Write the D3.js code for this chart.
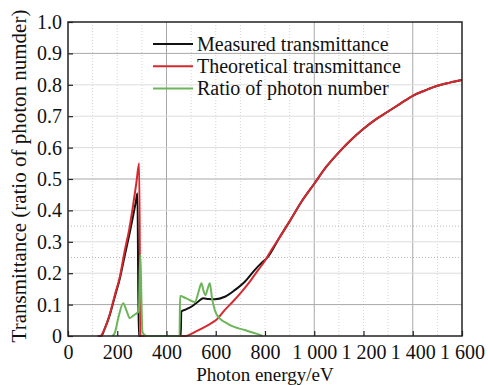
<!DOCTYPE html>
<html>
<head>
<meta charset="utf-8">
<script src="https://cdn.jsdelivr.net/npm/d3@7"></script>
<style>
	body { margin: 0; background: #fff; }
	svg text { font-family: "Liberation Serif", "Times New Roman", serif; fill: #111; }
</style>
</head>
<body>
<div id="chart"></div>
<script>
// Photon energy (eV) and transmittance values
const theoryEnergy = [120, 130, 150, 170, 190, 211, 230, 251, 265, 278, 289, 294, 460, 474, 520, 569, 600, 637, 670, 704, 740, 772, 800, 826, 860, 900, 950, 1000, 1050, 1100, 1150, 1200, 1250, 1300, 1350, 1400, 1450, 1500, 1550, 1600];
const theoryValue = [0, 0, 0.025, 0.07, 0.13, 0.19, 0.27, 0.35, 0.42, 0.49, 0.55, 0, 0, 0, 0.015, 0.035, 0.05, 0.083, 0.11, 0.14, 0.175, 0.21, 0.24, 0.274, 0.315, 0.365, 0.43, 0.485, 0.54, 0.585, 0.625, 0.66, 0.69, 0.715, 0.74, 0.765, 0.782, 0.797, 0.807, 0.815];

const measuredEnergy = [125, 135, 150, 170, 190, 211, 230, 251, 265, 275, 282, 287, 458, 460, 480, 502, 529, 549, 570, 596, 637, 677, 718, 758, 785, 810, 830, 860, 900, 950, 1000, 1050, 1100, 1150, 1200, 1250, 1300, 1350, 1400, 1450, 1500, 1550, 1600];
const measuredValue = [0, 0, 0.025, 0.068, 0.125, 0.185, 0.255, 0.33, 0.385, 0.425, 0.455, 0, 0, 0.078, 0.085, 0.094, 0.11, 0.12, 0.118, 0.117, 0.125, 0.146, 0.173, 0.21, 0.232, 0.25, 0.274, 0.315, 0.365, 0.43, 0.485, 0.54, 0.585, 0.625, 0.66, 0.69, 0.715, 0.74, 0.765, 0.782, 0.797, 0.807, 0.815];

const ratioEnergy = [180, 190, 205, 224, 238, 251, 265, 280, 288, 291, 294, 298, 302, 310, 320, 453, 455, 480, 515, 530, 542, 550, 558, 567, 576, 585, 596, 616, 640, 664, 690, 718, 745, 771, 790];
const ratioValue = [0, 0.01, 0.06, 0.104, 0.08, 0.057, 0.065, 0.073, 0.08, 0.2, 0.258, 0.12, 0.014, 0.004, 0, 0, 0.127, 0.12, 0.108, 0.14, 0.168, 0.145, 0.13, 0.15, 0.168, 0.12, 0.083, 0.056, 0.043, 0.032, 0.025, 0.019, 0.012, 0.006, 0];

const xTicks = [0, 200, 400, 600, 800, 1000, 1200, 1400, 1600];
const xTickLabels = ["0", "200", "400", "600", "800", "1 000", "1 200", "1 400", "1 600"];
const yTicks = [0, 0.1, 0.2, 0.3, 0.4, 0.5, 0.6, 0.7, 0.8, 0.9, 1.0];
const yTickLabels = ["0", "0.1", "0.2", "0.3", "0.4", "0.5", "0.6", "0.7", "0.8", "0.9", "1.0"];

// grid lines as they show in the scan
const xGridMinor = [100, 200, 300, 500, 600, 700, 800, 900, 1100, 1200, 1300, 1500];
const xGridMajor = [400, 1000, 1400];
const yGridMinor = [0.2, 0.3, 0.4, 0.6, 0.7, 0.8];
const yGridMajor = [0.1, 0.5, 0.9];
const yGridDotted = [0.25, 0.35];

const seriesNames = ["Measured transmittance", "Theoretical transmittance", "Ratio of photon number"];
const seriesColours = ["#111111", "#d42a2f", "#6db55a"];

const serif = '"Liberation Serif", "Times New Roman", serif';

drawChart();

function drawChart() {
	const width = 488;
	const height = 385;
	const left = 68, right = 462, top = 22, bottom = 336;

	const xScale = d3.scaleLinear().domain([0, 1600]).range([left, right]);
	const yScale = d3.scaleLinear().domain([0, 1]).range([bottom, top]);

	const svg = d3.select('#chart')
		.append('svg')
		.attr('width', width)
		.attr('height', height)
		.attr('font-family', serif);

	// Grid
	const grid = svg.append('g');
	grid.selectAll('.gx').data(xGridMinor).enter().append('line')
		.attr('x1', d => xScale(d)).attr('x2', d => xScale(d))
		.attr('y1', top).attr('y2', bottom)
		.attr('stroke', '#d4d4d4').attr('stroke-dasharray', '1,2');
	grid.selectAll('.gxm').data(xGridMajor).enter().append('line')
		.attr('x1', d => xScale(d)).attr('x2', d => xScale(d))
		.attr('y1', top).attr('y2', bottom)
		.attr('stroke', '#a8a8a8');
	grid.selectAll('.gy').data(yGridMinor).enter().append('line')
		.attr('y1', d => yScale(d)).attr('y2', d => yScale(d))
		.attr('x1', left).attr('x2', right)
		.attr('stroke', '#dddddd');
	grid.selectAll('.gyd').data(yGridDotted).enter().append('line')
		.attr('y1', d => yScale(d)).attr('y2', d => yScale(d))
		.attr('x1', left).attr('x2', right)
		.attr('stroke', '#b8b8b8').attr('stroke-dasharray', '1,2');
	grid.selectAll('.gym').data(yGridMajor).enter().append('line')
		.attr('y1', d => yScale(d)).attr('y2', d => yScale(d))
		.attr('x1', left).attr('x2', right)
		.attr('stroke', '#a8a8a8');

	// Curves
	const line = d3.line()
		.x(d => xScale(d[0]))
		.y(d => yScale(d[1]))
		.curve(d3.curveMonotoneX);

	const series = [
		d3.zip(measuredEnergy, measuredValue),
		d3.zip(theoryEnergy, theoryValue),
		d3.zip(ratioEnergy, ratioValue)
	];

	svg.append('g').selectAll('path')
		.data(series)
		.enter()
			.append('path')
				.attr('d', d => line(d))
				.attr('fill', 'none')
				.attr('stroke', (d, i) => seriesColours[i])
				.attr('stroke-width', 2)
				.attr('stroke-linejoin', 'round');

	// Axes
	const xAxis = svg.append('g')
		.attr('transform', `translate(0, ${bottom})`)
		.call(d3.axisBottom(xScale)
			.tickValues(xTicks)
			.tickFormat((d, i) => xTickLabels[i])
			.tickSizeInner(-5)
			.tickSizeOuter(0)
			.tickPadding(9));

	const yAxis = svg.append('g')
		.attr('transform', `translate(${left}, 0)`)
		.call(d3.axisLeft(yScale)
			.tickValues(yTicks)
			.tickFormat((d, i) => yTickLabels[i])
			.tickSizeInner(-5)
			.tickSizeOuter(0)
			.tickPadding(6));

	[xAxis, yAxis].forEach(a => {
		a.attr('font-family', serif).attr('font-size', 20);
		a.select('.domain').remove();
		a.selectAll('line').attr('stroke', '#222').attr('stroke-width', 1.2);
		a.selectAll('text').attr('fill', '#111');
	});

	// Frame
	svg.append('rect')
		.attr('x', left).attr('y', top)
		.attr('width', right - left).attr('height', bottom - top)
		.attr('fill', 'none')
		.attr('stroke', '#222')
		.attr('stroke-width', 1.5);

	// Axis titles
	svg.append('text')
		.attr('x', 265)
		.attr('y', 380.8)
		.attr('text-anchor', 'middle')
		.attr('font-size', 19)
		.text("Photon energy/eV");

	svg.append('text')
		.attr('transform', `translate(26, 176) rotate(-90)`)
		.attr('text-anchor', 'middle')
		.attr('font-size', 21)
		.text("Transmittance (ratio of photon numder)");

	// Legend
	const legend = svg.append('g');
	seriesNames.forEach((name, i) => {
		const ly = 44 + i * 22.2;
		legend.append('line')
			.attr('x1', 153).attr('x2', 193)
			.attr('y1', ly).attr('y2', ly)
			.attr('stroke', seriesColours[i])
			.attr('stroke-width', 2);
		legend.append('text')
			.attr('x', 197)
			.attr('y', ly)
			.attr('dy', '0.33em')
			.attr('font-size', 20)
			.text(name);
	});
}
</script>
</body>
</html>
